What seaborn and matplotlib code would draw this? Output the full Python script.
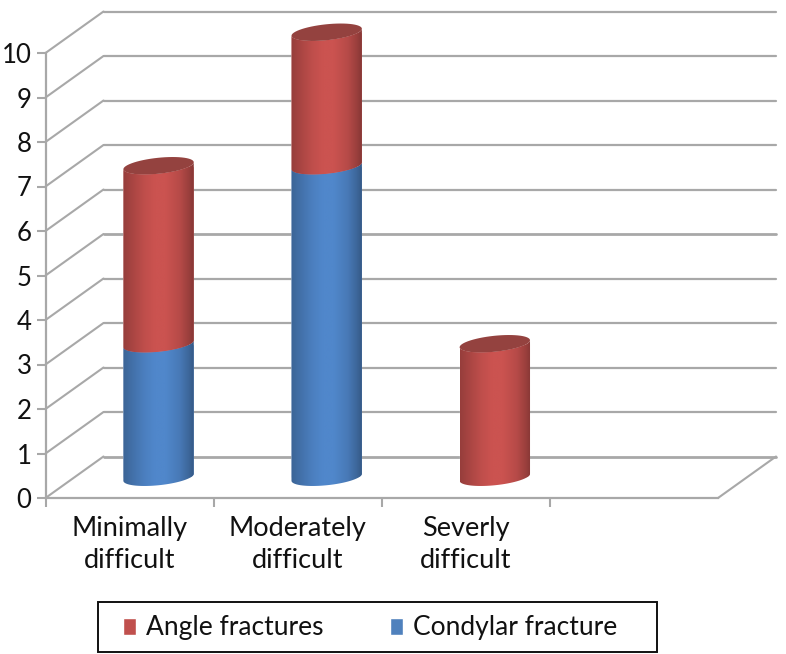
import numpy as np
import pandas as pd
import matplotlib
matplotlib.use("Agg")
import matplotlib.pyplot as plt
import seaborn as sns
from matplotlib.patches import Polygon, Rectangle, Patch
from matplotlib.transforms import Affine2D, IdentityTransform
from matplotlib.colors import to_rgb

categories = ["Minimally\ndifficult", "Moderately\ndifficult", "Severly\ndifficult", " "]
condylar = [3, 7, 0, 0]
angle = [4, 3, 3, 0]
series_names = ["Angle fractures", "Condylar fracture"]
y_ticks = list(range(0, 11))

RED = "#CB5350"
BLUE = "#5087CB"
CAP = "#94423F"
GRID = "#A8A8A8"
W, H = 786, 654
DEPTH_X, DEPTH_Y = 58, 41.5

sns.set_theme(style="white")
plt.rcParams["font.family"] = ["Lato", "DejaVu Sans"]
fig = plt.figure(figsize=(W / 100, H / 100), dpi=100, facecolor="white")
ax = fig.add_axes([45.5 / W, 156 / H, (718 - 45.5) / W, 445 / H])
ax.patch.set_alpha(0)

df = pd.DataFrame({"cat": categories, "cond": condylar, "ang": angle})
df["total"] = df["cond"] + df["ang"]
sns.barplot(data=df, x="cat", y="total", color=RED, saturation=1, width=70.5 / 168, errorbar=None, ax=ax, zorder=3)
sns.barplot(data=df, x="cat", y="cond", color=BLUE, saturation=1, width=70.5 / 168, errorbar=None, ax=ax, zorder=3)
ax.set_xlim(-0.5, 3.5)
ax.set_ylim(0, 10)
ax.set_autoscale_on(False)
ax.set_xlabel("")
ax.set_ylabel("")


def depth(d):
    return ax.transData + Affine2D().translate(DEPTH_X * d, DEPTH_Y * d)


# oblique wall and floor gridlines
d1 = depth(1)
for v in y_ticks:
    lw = 2.0 if v in (0, 5) else 1.6
    x0, y0 = ax.transData.transform((-0.5, v))
    x1, y1 = d1.transform((-0.5, v))
    x2, y2 = d1.transform((3.5, v))
    ax.plot([x0, x1], [y0, y1], color=GRID, lw=1.5, transform=IdentityTransform(), clip_on=False, zorder=1)
    ax.plot([x1, x2], [y1, y2], color=GRID, lw=lw, transform=IdentityTransform(), clip_on=False, zorder=1)
x0, y0 = ax.transData.transform((3.5, 0))
x1, y1 = d1.transform((3.5, 0))
ax.plot([x0, x1], [y0, y1], color=GRID, lw=1.5, transform=IdentityTransform(), clip_on=False, zorder=1)

# cylinders
A, B, K = 35.2, 8.0, 3.5
prof_t = [0, 0.1, 0.3, 0.45, 0.6, 0.8, 0.93, 1]
prof_v = [0.74, 0.81, 0.94, 1.0, 1.0, 0.9, 0.76, 0.66]
mid = depth(0.5)


def arc(cx, cy, t0, t1, n=60):
    t = np.linspace(t0, t1, n)
    return np.column_stack([cx + A * np.cos(t), cy + B * np.sin(t) + K * np.cos(t)])


n = len(categories)
red_bars = ax.patches[:n]
blue_bars = ax.patches[n:2 * n]


def segment(bar, lower, upper, color):
    cx_data = bar.get_x() + bar.get_width() / 2
    cx, cy0 = mid.transform((cx_data, lower))
    _, cy1 = mid.transform((cx_data, upper))
    pts = np.vstack([arc(cx, cy0, np.pi, 2 * np.pi), arc(cx, cy1, 2 * np.pi, np.pi)])
    poly = Polygon(pts, closed=True, transform=IdentityTransform())
    bar.set_transform(mid)
    bar.set_clip_path(poly)
    bar.set_clip_box(fig.bbox)
    g = np.interp(np.linspace(0, 1, 256), prof_t, prof_v)[None, :, None] * np.array(to_rgb(color))[None, None, :]
    im = ax.imshow(g, extent=(cx - A, cx + A, cy0 - 15, cy1 + 15), aspect="auto", interpolation="bilinear",
                   transform=IdentityTransform(), zorder=3.5)
    im.set_clip_path(poly)
    im.set_clip_box(fig.bbox)
    return cx, cy1


for red, blue, c, a in zip(red_bars, blue_bars, condylar, angle):
    if c > 0:
        segment(blue, 0, c, BLUE)
    else:
        blue.set_visible(False)
    if a > 0:
        cx, cy = segment(red, c, c + a, RED)
        ax.add_patch(Polygon(arc(cx, cy, 0, 2 * np.pi), closed=True, transform=IdentityTransform(),
                             facecolor=CAP, edgecolor="none", clip_on=False, zorder=4))
    else:
        red.set_visible(False)

# axes
for s in ("top", "right"):
    ax.spines[s].set_visible(False)
for s in ("left", "bottom"):
    ax.spines[s].set_color(GRID)
    ax.spines[s].set_linewidth(1.6)
ax.set_yticks(y_ticks)
ax.set_yticklabels([str(v) for v in y_ticks], fontsize=18.5, color="#111111")
ax.tick_params(axis="y", length=6.5, width=1.5, color=GRID, pad=3.5, left=True)
ax.set_xticks(np.arange(-0.5, 3))
ax.set_xticklabels([])
ax.tick_params(axis="x", which="major", length=6.5, width=1.5, color=GRID, bottom=True)
ax.set_xticks(np.arange(3), minor=True)
ax.set_xticklabels(categories[:3], minor=True, fontsize=19.5, color="#111111", linespacing=1.37)
ax.tick_params(axis="x", which="minor", length=0, pad=13)

# legend
fig.add_artist(Rectangle((98 / W, (H - 652) / H), 559 / W, 50 / H, transform=fig.transFigure,
                         facecolor="white", edgecolor="#111111", lw=1.4))
handles = [Patch(facecolor="#C0504D", label=series_names[0]), Patch(facecolor="#4F81BD", label=series_names[1])]
fig.legend(handles=handles, ncol=2, frameon=False, loc="center left", bbox_to_anchor=(99.5 / W, (H - 628) / H),
           fontsize=19, handlelength=0.5, handleheight=0.6, handletextpad=0.38, columnspacing=2.5,
           labelcolor="#111111")

fig.savefig("out.png", dpi=100, facecolor="white")
